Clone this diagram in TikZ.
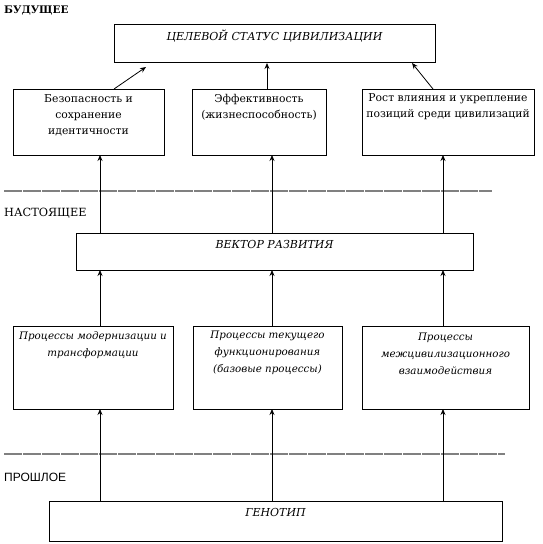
\documentclass[tikz,border=0pt]{standalone}
\usepackage{fontspec}
\newfontfamily\serifru{DejaVu Serif}
\newfontfamily\sansru{Liberation Sans}
\usetikzlibrary{positioning,arrows.meta}
\tikzset{
  box/.style 2 args={draw, line width=0.8pt, anchor=north west, inner sep=0pt,
    outer sep=0pt, minimum width=#1, minimum height=#2},
  boxtext/.style={align=center, inner sep=0pt, font=\serifru\fontsize{10.8}{16}\selectfont},
  itboxtext/.style={align=center, inner sep=0pt, font=\serifru\fontsize{10.3}{17}\selectfont\itshape},
  captext/.style={align=center, inner sep=0pt, font=\serifru\fontsize{11}{16}\selectfont\itshape},
  era/.style={anchor=west, inner sep=0pt, font=\serifru\fontsize{11.3}{16}\selectfont},
  timeline/.style={draw=gray, line width=1.8pt, dash pattern=on 18pt off 1pt},
  arr/.style={-{Stealth[length=6pt,width=5pt]}, line width=0.8pt}
}
\begin{document}
\begin{tikzpicture}[x=1pt,y=-1pt]
  \useasboundingbox (0,0) rectangle (543,544);
  % eras
  \node[era, font=\serifru\fontsize{10.4}{16}\selectfont\bfseries] (future) at (4,11) {БУДУЩЕЕ};
  \node[era] (present) at (4,213) {НАСТОЯЩЕЕ};
  \node[era, font=\sansru\fontsize{12}{14}\selectfont] (past) at (4,477) {ПРОШЛОЕ};
  \coordinate (l1a) at (4,191);
  \coordinate (l1b) at (492,191);
  \coordinate (l2a) at (4,454);
  \coordinate (l2b) at (505,454);
  \draw[timeline] (l1a) -- (l1b);
  \draw[timeline] (l2a) -- (l2b);

  % boxes
  \node[box={321pt}{38pt}] (goal) at (114,24) {};
  \node[captext, below=6pt of goal.north] (goaltxt) {ЦЕЛЕВОЙ СТАТУС ЦИВИЛИЗАЦИИ};

  \node[box={151pt}{66pt}] (safe) at (13,89) {};
  \node[boxtext, below=5pt of safe.north] (safetxt) {Безопасность и\\сохранение\\идентичности};
  \node[box={134pt}{66pt}] (eff) at (192,89) {};
  \node[boxtext, below=5pt of eff.north] (efftxt) {Эффективность\\(жизнеспособность)};
  \node[box={172pt}{66pt}] (infl) at (362,89) {};
  \node[boxtext, below=4pt of infl.north] (infltxt) {Рост влияния и укрепление\\позиций среди цивилизаций};

  \node[box={397pt}{37pt}] (vec) at (76,233) {};
  \node[captext, below=7pt of vec.north] (vectxt) {ВЕКТОР РАЗВИТИЯ};

  \node[box={160pt}{83pt}] (modern) at (13,326) {};
  \node[itboxtext, below=5pt of modern.north] (moderntxt) {Процессы модернизации и\\трансформации};
  \node[box={149pt}{83pt}] (cur) at (193,326) {};
  \node[itboxtext, below=5pt of cur.north] (curtxt) {Процессы текущего\\функционирования\\(базовые процессы)};
  \node[box={167pt}{83pt}] (inter) at (362,326) {};
  \node[itboxtext, below=7pt of inter.north] (intertxt) {Процессы\\межцивилизационного\\взаимодействия};

  \node[box={453pt}{40pt}] (geno) at (49,501) {};
  \node[captext, below=7pt of geno.north] (genotxt) {ГЕНОТИП};

  % arrows
  \coordinate (c1) at (100,0);
  \coordinate (c2) at (272,0);
  \coordinate (c3) at (443,0);
  \foreach \c/\lo/\hi in {c1/modern/safe, c2/cur/eff, c3/inter/infl} {
    \draw[arr] (geno.north -| \c) -- (\lo.south -| \c);
    \draw[arr] (\lo.north -| \c) -- (vec.south -| \c);
    \draw[arr] (vec.north -| \c) -- (\hi.south -| \c);
  }
  \coordinate (s1) at (114,0);
  \coordinate (t1) at (146,0);
  \coordinate (s2) at (267,0);
  \coordinate (s3) at (433,0);
  \coordinate (t3) at (412,0);
  \draw[arr] (safe.north -| s1) -- ([yshift=-5pt]goal.south -| t1);
  \draw[arr] (eff.north -| s2) -- ([yshift=-1pt]goal.south -| s2);
  \draw[arr] (infl.north -| s3) -- ([yshift=-1pt]goal.south -| t3);
\end{tikzpicture}
\end{document}
